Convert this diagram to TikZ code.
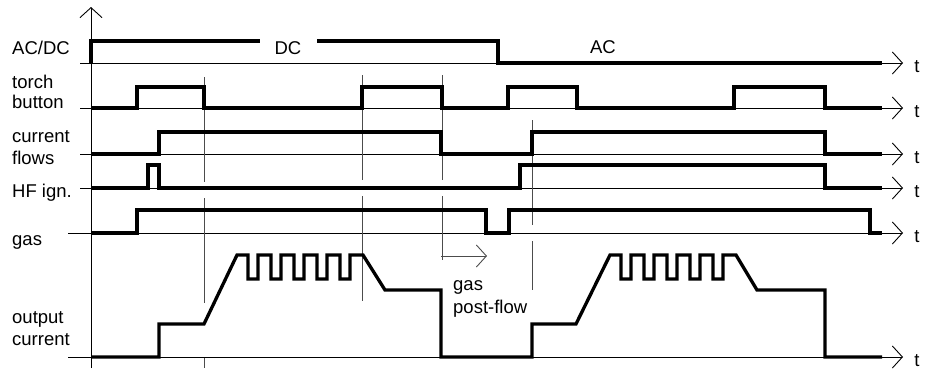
\documentclass[tikz,border=0pt]{standalone}
\usepackage{fontspec}
\setmainfont{Liberation Sans}
\usetikzlibrary{arrows.meta,positioning}
\tikzset{
  sig/.style={line width=3.3pt,line join=miter,line cap=butt},
  base/.style={line width=0.9pt,
               -{Straight Barb[length=10pt,width=22pt,line width=0.9pt]}},
  guide/.style={line width=0.8pt,color=black!70,
                dash pattern=on 105pt off 16pt},
  lbl/.style={font=\fontsize{18.5}{21}\selectfont,inner sep=0pt,
              anchor=base west},
  tlbl/.style={lbl,anchor=base},
}

\begin{document}
\begin{tikzpicture}[x=1pt,y=-1pt]
  \useasboundingbox (0,0) rectangle (930,376);

  % time axes
  \draw[base](91,368) -- (91,7);
  \foreach \y/\xs/\nm in {63/80/acdc,108/80/torch,154/80/flow,
                          188/80/hf,233/68/gas,357/68/out}{
    \draw[base](\xs,\y) -- (903,\y);
    \node[tlbl](t-\nm) at (917,\y+9) {t};
  }

  % guide lines
  \draw[guide](204,77) -- (204,305);
  \draw[guide](204,358) -- (204,368);
  \draw[guide](362,75) -- (362,305);
  \draw[guide](442,75) -- (442,260);
  \draw[guide](532,120) -- (532,290);

  % signal names
  \node[lbl](acdc)  at (12,54)  {AC/DC};
  \node[lbl](torch) at (12,88)  {torch};
  \node[lbl](btn)   at (12,108) {button};
  \node[lbl](cur)   at (12,142) {current};
  \node[lbl](flows) at (12,164) {flows};
  \node[lbl](hf)    at (12,197) {HF ign.};
  \node[lbl](gas)   at (12,245) {gas};
  \node[lbl](outp)  at (12,323) {output};
  \node[lbl](outc)  at (12,345) {current};
  \node[tlbl](dc)   at (288,54) {DC};
  \node[tlbl](ac)   at (603,53) {AC};
  \node[lbl](pfa)   at (453,290) {gas};
  \node[lbl](pfb)   at (453,313) {post-flow};

  % signals
  \draw[sig](91,63) -- (91,41) -- (260,41);
  \draw[sig](317,41) -- (498,41) -- (498,63) -- (882,63);
  \draw[sig](91,108) -- (137,108) -- (137,87) -- (204,87) -- (204,108)
    -- (362,108) -- (362,87) -- (442,87) -- (442,108) -- (508,108)
    -- (508,87) -- (577,87) -- (577,108) -- (734,108) -- (734,87)
    -- (825,87) -- (825,108) -- (882,108);
  \draw[sig](91,154) -- (159,154) -- (159,132) -- (441,132) -- (441,154)
    -- (532,154) -- (532,132) -- (825,132) -- (825,154) -- (882,154);
  \draw[sig](91,188) -- (148,188) -- (148,165) -- (159,165) -- (159,188)
    -- (520,188) -- (520,165) -- (825,165) -- (825,188) -- (882,188);
  \draw[sig](91,233) -- (137,233) -- (137,210) -- (486,210) -- (486,233)
    -- (509,233) -- (509,210) -- (870,210) -- (870,233) -- (882,233);
  \draw[sig](91,357) -- (159,357) -- (159,324) -- (204,324) -- (237,255)
    -- ++(11,0) foreach \k in {1,...,5}{ -- ++(0,24) -- ++(10,0)
    -- ++(0,-24) -- ++(13,0) }
    -- (385,290) -- (441,290) -- (441,357) -- (532,357) -- (532,324)
    -- (576,324) -- (610,255)
    -- ++(11,0) foreach \k in {1,...,5}{ -- ++(0,24) -- ++(10,0)
    -- ++(0,-24) -- ++(13,0) }
    -- (757,290) -- (825,290) -- (825,357) -- (882,357);

  % post-flow arrow
  \draw[base,color=black!70](441,256) -- (487,256);
\end{tikzpicture}
\end{document}
